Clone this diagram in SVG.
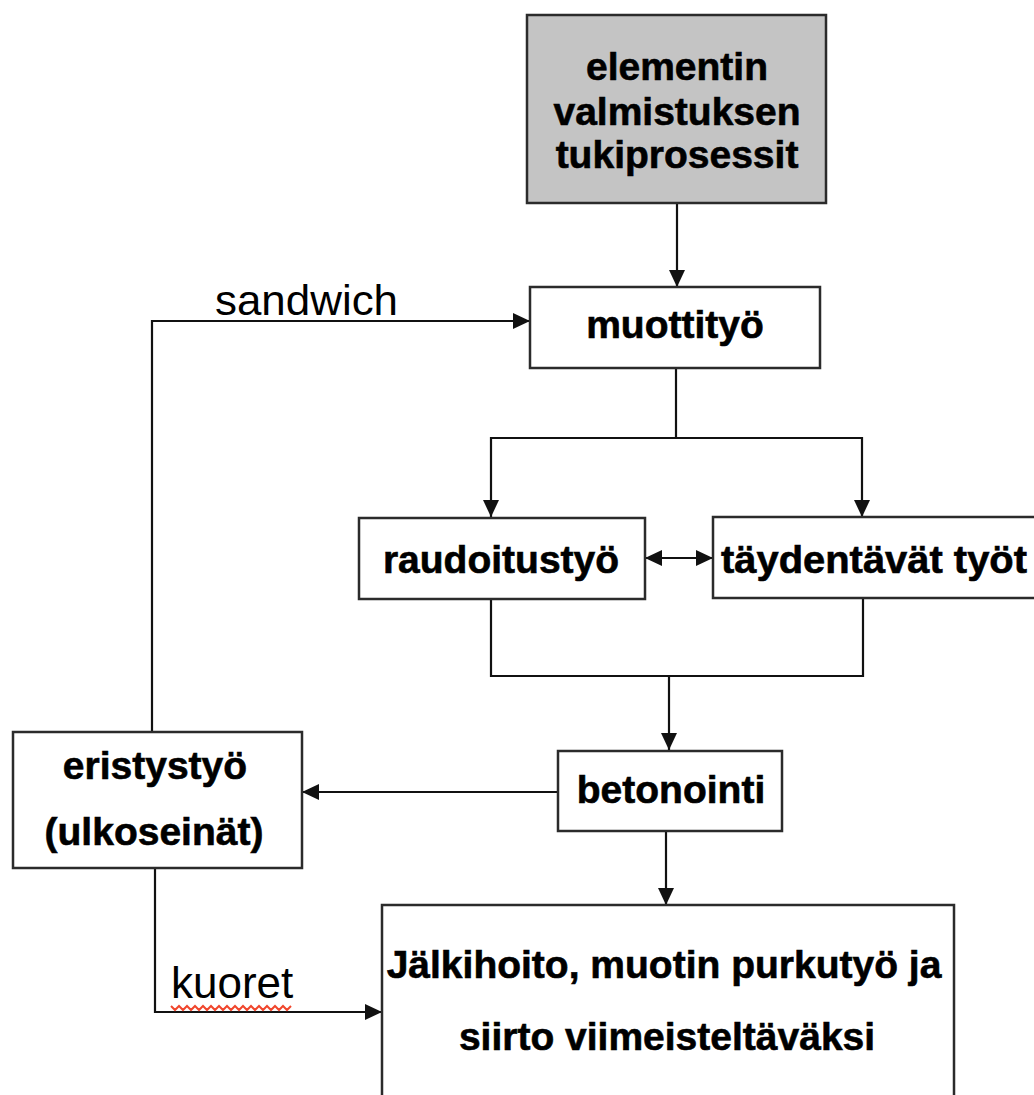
<svg xmlns="http://www.w3.org/2000/svg" width="1034" height="1095" viewBox="0 0 1034 1095">
  <defs>
    <marker id="arr" markerUnits="userSpaceOnUse" markerWidth="18" markerHeight="18" refX="17" refY="8" orient="auto-start-reverse">
      <path d="M0,0 L17,8 L0,16 z" fill="#111"/>
    </marker>
    <style>
      .box { fill: #ffffff; stroke: #2b2b2b; stroke-width: 2.5; }
      .gray { fill: #c4c4c4; }
      .lbl { font-family: "Liberation Sans", Arial, sans-serif; font-weight: bold; font-size: 39px; fill: #000; stroke: #000; stroke-width: 0.6; text-anchor: middle; }
      .plain { font-family: "Liberation Sans", Arial, sans-serif; font-size: 42px; fill: #000; }
      .con { fill: none; stroke: #111; stroke-width: 2.2; }
      .arrow { marker-end: url(#arr); }
    </style>
  </defs>
  <rect x="0" y="0" width="1034" height="1095" fill="#ffffff"/>

  <g id="connectors">
    <path class="con arrow" d="M677,203 V287"/>
    <path class="con" d="M676,368 V438"/>
    <path class="con arrow" d="M676,438 H491 V517"/>
    <path class="con arrow" d="M676,438 H862 V517"/>
    <path class="con" d="M645,558 H713" marker-start="url(#arr)" marker-end="url(#arr)"/>
    <path class="con" d="M491,599 V676 H863 V599"/>
    <path class="con arrow" d="M669,676 V750"/>
    <path class="con arrow" d="M558,792 H302"/>
    <path class="con arrow" d="M152,732 V321 H530"/>
    <path class="con arrow" d="M155,868 V1012 H382"/>
    <path class="con arrow" d="M666,831 V905"/>
  </g>

  <g id="edge-labels">
    <text class="plain" x="215" y="315" textLength="183" lengthAdjust="spacingAndGlyphs">sandwich</text>
    <text class="plain" x="171" y="998" style="font-size:44px">kuoret</text>
    <path d="M171,1006 l4,4 l4,-4 l4,4 l4,-4 l4,4 l4,-4 l4,4 l4,-4 l4,4 l4,-4 l4,4 l4,-4 l4,4 l4,-4 l4,4 l4,-4 l4,4 l4,-4 l4,4 l4,-4 l4,4 l4,-4 l4,4 l4,-4 l4,4 l4,-4 l4,4 l4,-4 l4,4 l4,-4" fill="none" stroke="#f0462c" stroke-width="2"/>
  </g>

  <g id="node-tuki">
    <rect class="box gray" x="527" y="15" width="299" height="188"/>
    <text class="lbl" x="677" y="80">elementin</text>
    <text class="lbl" x="677" y="125">valmistuksen</text>
    <text class="lbl" x="677" y="168">tukiprosessit</text>
  </g>

  <g id="node-muottityo">
    <rect class="box" x="530" y="287" width="290" height="81"/>
    <text class="lbl" x="675" y="338">muottityö</text>
  </g>

  <g id="node-raudoitustyo">
    <rect class="box" x="359" y="518" width="286" height="81"/>
    <text class="lbl" x="501" y="573">raudoitustyö</text>
  </g>

  <g id="node-taydentavat">
    <rect class="box" x="713" y="517" width="340" height="81"/>
    <text class="lbl" x="874" y="573" textLength="306" lengthAdjust="spacingAndGlyphs">täydentävät työt</text>
  </g>

  <g id="node-betonointi">
    <rect class="box" x="558" y="751" width="224" height="80"/>
    <text class="lbl" x="671" y="803">betonointi</text>
  </g>

  <g id="node-eristystyo">
    <rect class="box" x="13" y="732" width="289" height="136"/>
    <text class="lbl" x="155" y="779">eristystyö</text>
    <text class="lbl" x="154" y="845">(ulkoseinät)</text>
  </g>

  <g id="node-jalkihoito">
    <rect class="box" x="382" y="905" width="572" height="200"/>
    <text class="lbl" x="664" y="978">Jälkihoito, muotin purkutyö ja</text>
    <text class="lbl" x="667" y="1050">siirto viimeisteltäväksi</text>
  </g>
</svg>
